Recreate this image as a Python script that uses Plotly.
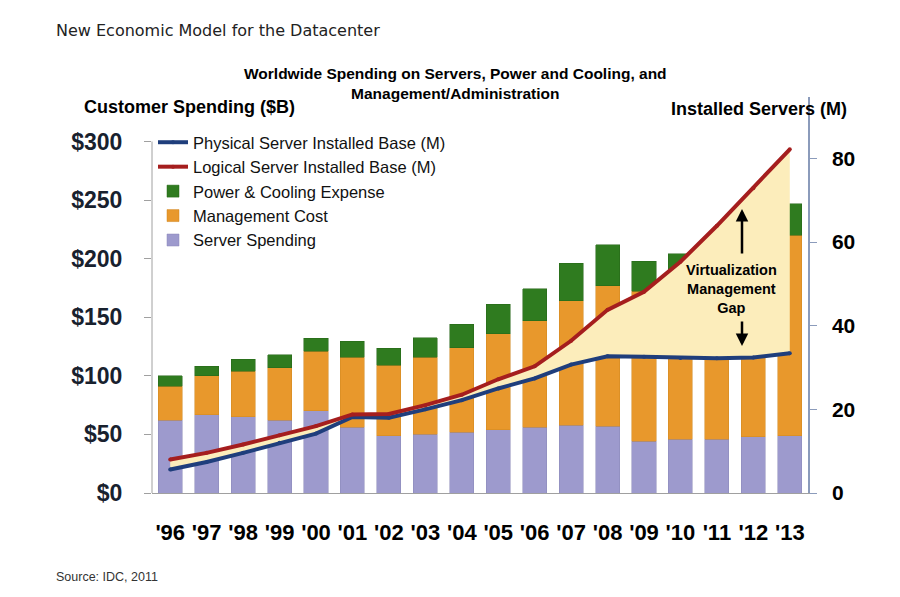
import plotly.graph_objects as go

# values
years = ["'96", "'97", "'98", "'99", "'00", "'01", "'02", "'03", "'04",
         "'05", "'06", "'07", "'08", "'09", "'10", "'11", "'12", "'13"]
server_spending = [62, 67, 65, 62, 70, 56, 49, 50, 52, 54, 56, 58, 57, 44, 46, 46, 48, 49]
management_cost = [29, 33, 39, 45, 51, 60, 60, 66, 72, 82, 91, 106, 120, 128, 132, 140, 152, 171]
power_cooling = [9, 8, 10, 11, 11, 13.5, 14.5, 16.5, 20, 25, 27.5, 32, 35, 26, 26, 28, 30, 27]
logical_servers = [8.0, 9.6, 11.6, 13.8, 16.0, 18.8, 18.9, 21.0, 23.5, 27.2, 30.3, 36.4,
                   43.8, 48.1, 55.3, 63.9, 72.9, 82.2]
physical_servers = [5.6, 7.4, 9.6, 12.0, 14.2, 18.2, 18.0, 20.0, 22.2, 25.0, 27.4, 30.7,
                    32.7, 32.6, 32.3, 32.2, 32.4, 33.4]

left_ticks = [0, 50, 100, 150, 200, 250, 300]
left_labels = ["$0", "$50", "$100", "$150", "$200", "$250", "$300"]
right_ticks = [0, 20, 40, 60, 80]

FONT = "Liberation Sans, Arial, sans-serif"

# the page body adds an 8px offset, so work in page pixels and shift back
OFF = 8
L, R, T, B = 152 - OFF, 808 - OFF, 97 - OFF, 493 - OFF


def px(x):
    return (x - OFF - L) / (R - L)


def py(y):
    return (B - (y - OFF)) / (B - T)


fig = go.Figure()

fig.add_trace(go.Bar(x=years, y=server_spending, name="Server Spending",
                     marker=dict(color="#9d9acd", line=dict(color="#8a87b8", width=0.5)),
                     width=0.66, legendrank=5))
fig.add_trace(go.Bar(x=years, y=management_cost, name="Management Cost",
                     marker=dict(color="#e8982c", line=dict(color="#d0871f", width=0.5)),
                     width=0.66, legendrank=4))
fig.add_trace(go.Bar(x=years, y=power_cooling, name="Power & Cooling Expense",
                     marker=dict(color="#2f7b1f", line=dict(color="#256617", width=0.5)),
                     width=0.66, legendrank=3))

# gap area between the two server lines
fig.add_trace(go.Scatter(x=years, y=physical_servers, yaxis="y2", mode="lines",
                         line=dict(width=0, color="#f9e6a8"), showlegend=False,
                         hoverinfo="skip"))
fig.add_trace(go.Scatter(x=years, y=logical_servers, yaxis="y2", mode="lines",
                         line=dict(width=0, color="#f9e6a8"), fill="tonexty",
                         fillcolor="#fcedbb", showlegend=False, hoverinfo="skip"))

fig.add_trace(go.Scatter(x=years, y=physical_servers, yaxis="y2", mode="lines+markers",
                         name="Physical Server Installed Base (M)",
                         line=dict(color="#1f3e7c", width=4),
                         marker=dict(size=4, color="#1f3e7c"), legendrank=1))
fig.add_trace(go.Scatter(x=years, y=logical_servers, yaxis="y2", mode="lines+markers",
                         name="Logical Server Installed Base (M)",
                         line=dict(color="#a51e1e", width=4),
                         marker=dict(size=4, color="#a51e1e"), legendrank=2))

ann = [
    dict(text="New Economic Model for the Datacenter", x=px(54), y=py(31),
         xanchor="left", yanchor="middle",
         font=dict(family="DejaVu Sans, Verdana, sans-serif", size=16, color="#222222")),
    dict(text="Worldwide Spending on Servers, Power and Cooling, and<br>Management/Administration",
         x=px(455), y=py(84), xanchor="center", yanchor="middle",
         font=dict(family=FONT, size=15.5, color="#000000", weight="bold")),
    dict(text="Customer Spending ($B)", x=px(82), y=py(107), xanchor="left", yanchor="middle",
         font=dict(family=FONT, size=18, color="#000000", weight="bold")),
    dict(text="Installed Servers (M)", x=px(669), y=py(109), xanchor="left", yanchor="middle",
         font=dict(family=FONT, size=18, color="#000000", weight="bold")),
    dict(text="Source: IDC, 2011", x=px(54), y=py(577), xanchor="left", yanchor="middle",
         font=dict(family=FONT, size=12.5, color="#333333")),
    dict(text="Virtualization<br>Management<br>Gap", x=px(731), y=py(289),
         xanchor="center", yanchor="middle",
         font=dict(family=FONT, size=14.5, color="#000000", weight="bold")),
    dict(text="", x=px(742), y=py(209), ax=0, ay=46, showarrow=True, arrowhead=2,
         arrowsize=1, arrowwidth=2.5, arrowcolor="#000000"),
    dict(text="", x=px(742), y=py(346), ax=0, ay=-26, showarrow=True, arrowhead=2,
         arrowsize=1, arrowwidth=2.5, arrowcolor="#000000"),
]
for a in ann:
    a.setdefault("showarrow", False)
    a["xref"] = "paper"
    a["yref"] = "paper"

fig.update_layout(
    width=900, height=597,
    margin=dict(l=L, r=900 - R, t=T, b=597 - B),
    paper_bgcolor="white", plot_bgcolor="white",
    barmode="stack", bargap=0.34,
    font=dict(family=FONT, color="#111111"),
    showlegend=True,
    legend=dict(x=px(153), y=py(125), xanchor="left", yanchor="top",
                traceorder="normal",
                bgcolor="rgba(0,0,0,0)", font=dict(size=16.5, color="#111111"),
                tracegroupgap=0, itemwidth=30),
    xaxis=dict(type="category", range=[-0.5, 17.5], showline=True, linecolor="#a0a0a0",
               linewidth=1, ticks="", showgrid=False, ticklabelstandoff=20,
               tickfont=dict(size=22, color="#000000", weight="bold")),
    yaxis=dict(range=[0, 338], tickvals=left_ticks, ticktext=left_labels,
               showgrid=False, zeroline=False, showline=False,
               ticks="outside", ticklen=7, tickcolor="#a0a0a0", ticklabelstandoff=17,
               tickfont=dict(size=23, color="#18212e", weight="bold")),
    yaxis2=dict(range=[0, 94.7], tickvals=right_ticks, overlaying="y", side="right",
                showgrid=False, zeroline=False, showline=True, linecolor="#8b9bbb",
                linewidth=1.5, ticks="outside", ticklen=7, tickcolor="#8b9bbb",
                ticklabelstandoff=11,
                tickfont=dict(size=21, color="#000000", weight="bold")),
    annotations=ann,
    shapes=[dict(type="line", xref="paper", yref="y", x0=0, x1=0, y0=0, y1=300,
                 line=dict(color="#a0a0a0", width=1))],
)

fig.write_html("out.html")
